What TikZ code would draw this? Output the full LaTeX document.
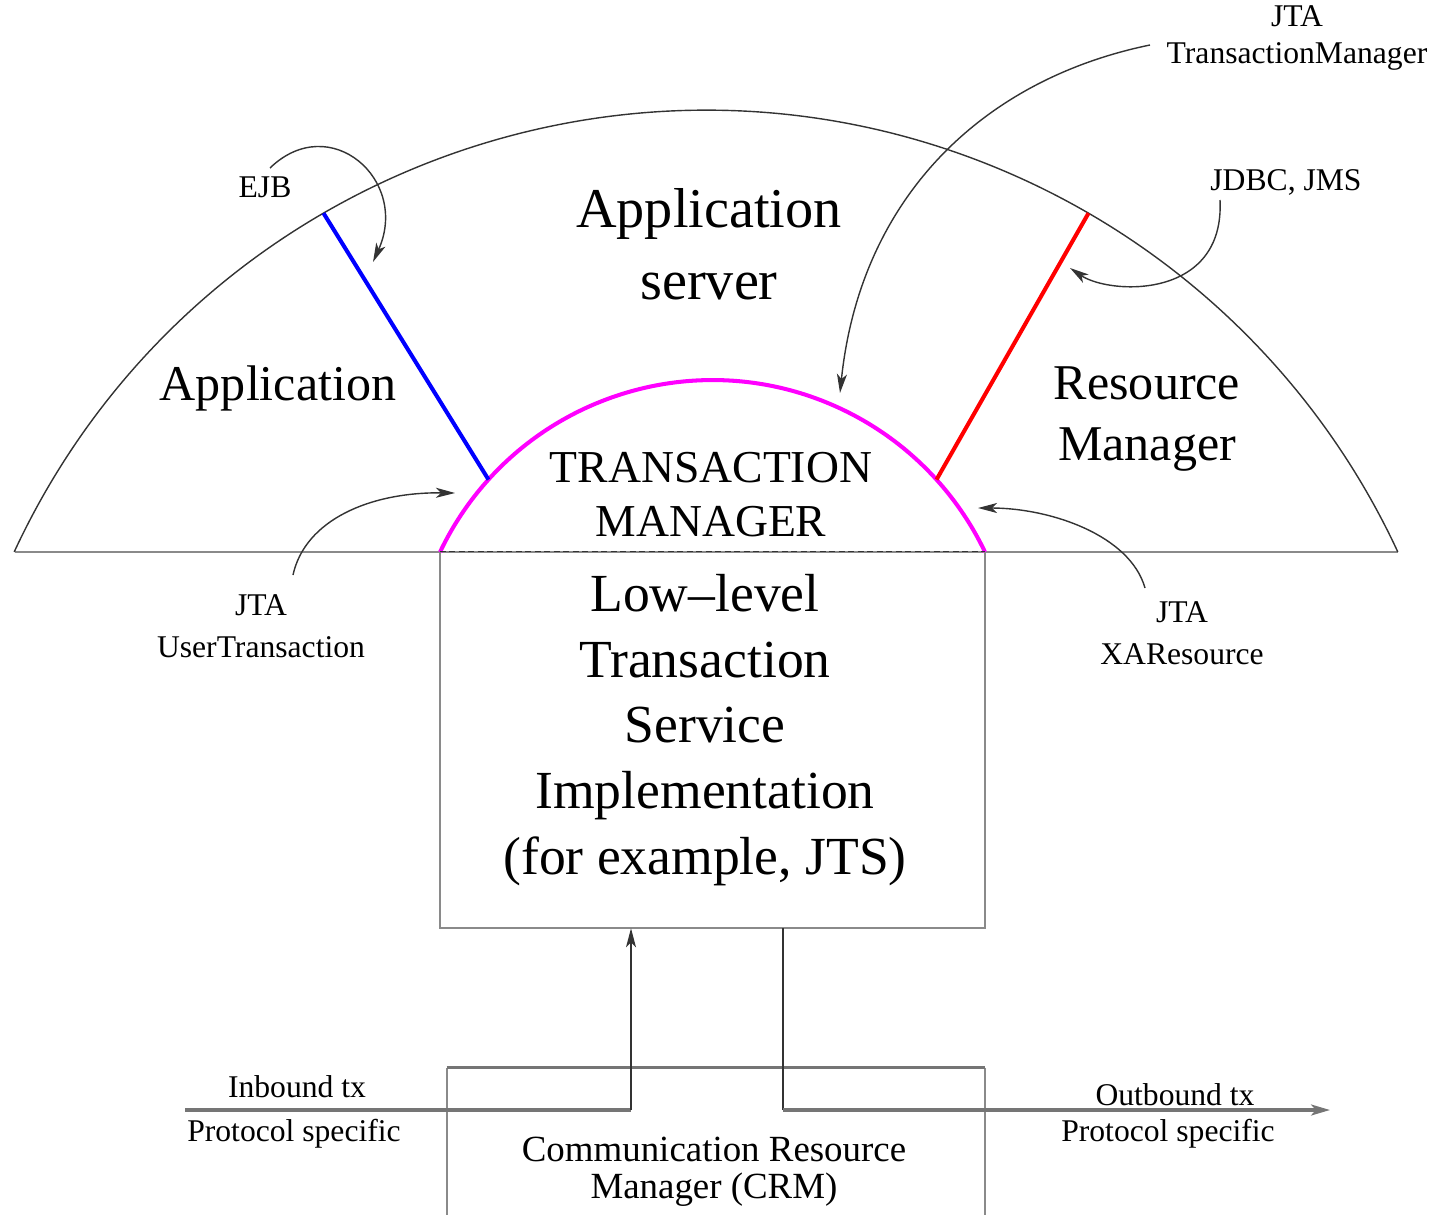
\documentclass[tikz,border=0pt]{standalone}
\usepackage{fontspec}
\setmainfont{Liberation Serif}
\usetikzlibrary{arrows.meta,calc}
\definecolor{nline}{HTML}{333333}
\definecolor{nframe}{HTML}{8A8A8A}
\definecolor{ntm}{HTML}{FF00FF}
\definecolor{napp}{HTML}{0000FF}
\definecolor{nres}{HTML}{FF0000}
\tikzset{
  rim/.style={draw=nline, line width=0.8pt},
  frame/.style={draw=nframe, line width=1.1pt},
  heavy/.style={draw=nframe!85!black, line width=1.8pt},
  iface/.style={line width=2.3pt},
  arr/.style={-{Stealth[length=0.38cm, width=0.2cm, inset=0.1cm]}, draw=nline, line width=0.8pt},
  big/.style={align=center, inner sep=0pt, font=\fontsize{30.5}{37.5}\selectfont},
  side/.style={align=center, inner sep=0pt, font=\fontsize{28.5}{35}\selectfont},
  caps/.style={align=center, inner sep=0pt, font=\fontsize{26}{30.7}\selectfont},
  lbl/.style={align=center, inner sep=0pt, font=\fontsize{18}{24}\selectfont},
}

\begin{document}
\begin{tikzpicture}[x=0.02cm, y=0.02cm]
  \useasboundingbox (0,0) rectangle (1443,-1214);
  \coordinate (bigc) at (706,-873);
  \coordinate (tmc) at (712.5,-682);

  % dome of the application server
  \draw[frame] (15,-552) -- (1398,-552);
  \draw[rim] ($(bigc)+(155.1:762.7)$) arc[start angle=155.1, end angle=24.9, radius=762.7];

  % transaction manager and the two interfaces
  \draw[iface, draw=ntm] ($(tmc)+(154.5:301.9)$) arc[start angle=154.5, end angle=25.5, radius=301.9];
  \draw[iface, draw=napp] ($(bigc)+(120.1:762.7)$) -- ($(tmc)+(137.9:301.9)$);
  \draw[iface, draw=nres] ($(bigc)+(59.9:762.7)$) -- ($(tmc)+(42.1:301.9)$);

  % low-level service box, dashed on top
  \node[minimum width=10.9cm, minimum height=7.52cm, inner sep=0pt] (tsi) at (712.5,-740) {};
  \draw[frame] (tsi.north west) |- (tsi.south east) -- (tsi.north east);
  \draw[draw=nline, line width=0.9pt, dash pattern=on 0.12cm off 0.07cm] (tsi.north west) -- (tsi.north east);

  % CRM box, runs off the bottom edge
  \node[minimum width=10.76cm, minimum height=3.84cm, inner sep=0pt] (crm) at (716,-1164) {};
  \draw[frame] (crm.north west) -- (crm.south west);
  \draw[frame] (crm.north east) -- (crm.south east);
  \draw[heavy] (crm.north west) -- (crm.north east);

  % texts
  \node[big, font=\fontsize{32}{41}\selectfont] (appsrv) at (709,-244) {Application\\server};
  \node[side] (app) at (278,-388) {Application};
  \node[side] (rm) at (1147,-419) {Resource\\Manager};
  \node[caps] (tm) at (711,-495) {TRANSACTION\\MANAGER};
  \node[big] (tstext) at (705,-730) {Low--level\\Transaction\\Service\\Implementation\\(for example, JTS)};
  \node[lbl, font=\fontsize{21}{21}\selectfont] (crmtext) at (714,-1172) {Communication Resource\\Manager (CRM)};

  \node[lbl] (ejb) at (265,-187) {EJB};
  \node[lbl] (jtatm) at (1297,-38) {JTA\\[-3pt]TransactionManager};
  \node[lbl] (jdbc) at (1286,-182) {JDBC, JMS};
  \node[lbl] (jtaut) at (261,-626) {JTA\\UserTransaction};
  \node[lbl] (jtaxa) at (1182,-633) {JTA\\XAResource};
  \node[lbl] (inlbl) at (297,-1087) {Inbound tx};
  \node[lbl] (inproto) at (294,-1134) {Protocol specific};
  \node[lbl] (outlbl) at (1175,-1095) {Outbound tx};
  \node[lbl] (outproto) at (1168,-1134) {Protocol specific};

  % pointers from the interface names
  \coordinate (ejbs) at (270,-168);
  \coordinate (ejbt) at (373,-262);
  \coordinate (jtms) at (1150,-45);
  \coordinate (jtmt) at (840,-393);
  \coordinate (jdbs) at (1220,-200);
  \coordinate (jdbt) at (1070,-268);
  \coordinate (juts) at (293,-575);
  \coordinate (jutt) at (455,-493);
  \coordinate (jxas) at (1145,-588);
  \coordinate (jxat) at (978,-508);
  \draw[arr] (ejbs) .. controls (330,-110) and (410,-180) .. (ejbt);
  \draw[arr] (jtms) .. controls (980,-80) and (860,-200) .. (jtmt);
  \draw[arr] (jdbs) .. controls (1225,-300) and (1110,-295) .. (jdbt);
  \draw[arr] (juts) .. controls (305,-520) and (370,-492) .. (jutt);
  \draw[arr] (jxas) .. controls (1130,-535) and (1050,-508) .. (jxat);

  % protocol flows through the CRM
  \coordinate (inA) at (185,-1110);
  \coordinate (inB) at (631,-1110);
  \coordinate (outB) at (783,-1110);
  \coordinate (outC) at (1330,-1110);
  \draw[heavy] (inA) -- (inB);
  \draw[arr] (inB) -- (inB |- tsi.south);
  \draw[rim] (outB |- tsi.south) -- (outB);
  \draw[heavy, -{Stealth[length=0.38cm, width=0.22cm, inset=0.1cm]}] (outB) -- (outC);
\end{tikzpicture}
\end{document}
